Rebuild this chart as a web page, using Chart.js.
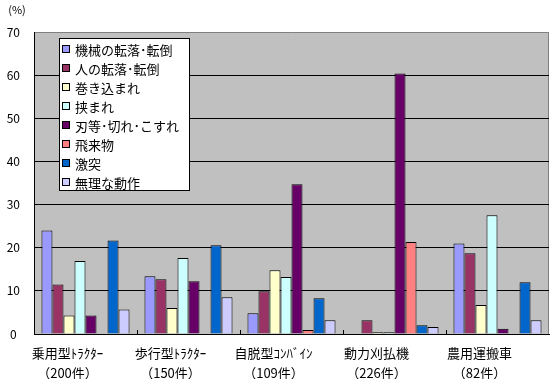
<!DOCTYPE html>
<html>
<head>
<meta charset="utf-8">
<script src="https://cdn.jsdelivr.net/npm/chart.js@4/dist/chart.umd.min.js"></script>
<style>
html,body{margin:0;padding:0;background:#fff;}
#wrap{width:557px;height:379px;position:relative;}
</style>
</head>
<body>
<div id="wrap"><canvas id="c" width="557" height="379"></canvas></div>
<script>
const categories = [
  ["乗用型ﾄﾗｸﾀｰ", "（200件）"],
  ["歩行型ﾄﾗｸﾀｰ", "（150件）"],
  ["自脱型ｺﾝﾊﾞｲﾝ", "（109件）"],
  ["動力刈払機", "（226件）"],
  ["農用運搬車", "（82件）"]
];
const seriesNames = ["機械の転落･転倒","人の転落･転倒","巻き込まれ","挟まれ","刃等･切れ･こすれ","飛来物","激突","無理な動作"];
const seriesColors = ["#9999FF","#993366","#FFFFCC","#CCFFFF","#660066","#FF8080","#0066CC","#CCCCFF"];
const kikaiTenraku = [24.0, 13.4, 4.8, 0, 21.0];
const hitoTenraku  = [11.5, 12.7, 9.9, 3.2, 18.7];
const makikomare   = [4.3, 6.0, 14.8, 0.4, 6.7];
const hasamare     = [16.9, 17.6, 13.2, 0.4, 27.5];
const hatoKire     = [4.3, 12.2, 34.7, 60.4, 1.2];
const hiraibutsu   = [0, 0, 0.9, 21.3, 0];
const gekitotsu    = [21.7, 20.6, 8.3, 2.0, 12.0];
const murinaDosa   = [5.7, 8.5, 3.2, 1.6, 3.2];
const seriesValues = [kikaiTenraku, hitoTenraku, makikomare, hasamare, hatoKire, hiraibutsu, gekitotsu, murinaDosa];
const yTicks = [0,10,20,30,40,50,60,70];

const FONT = "'Noto Sans CJK JP', 'Noto Sans', sans-serif";

const plotBg = {
  id: 'plotBg',
  beforeDraw(chart) {
    const {ctx, chartArea: a} = chart;
    ctx.save();
    ctx.fillStyle = '#C0C0C0';
    ctx.fillRect(a.left, a.top, a.right - a.left, a.bottom - a.top);
    ctx.strokeStyle = '#808080';
    ctx.lineWidth = 1;
    ctx.beginPath();
    ctx.moveTo(a.left, a.top + 0.5);
    ctx.lineTo(a.right - 0.5, a.top + 0.5);
    ctx.lineTo(a.right - 0.5, a.bottom);
    ctx.stroke();
    ctx.restore();
  },
  afterDraw(chart) {
    const {ctx, chartArea: a, scales} = chart;
    ctx.save();
    // category boundary tick marks
    const xs = scales.x;
    const half = (xs.getPixelForValue(1) - xs.getPixelForValue(0)) / 2;
    ctx.strokeStyle = '#000';
    ctx.lineWidth = 1;
    ctx.beginPath();
    for (let i = 1; i < categories.length; i++) {
      const px = Math.round(xs.getPixelForValue(i) - half) + 0.5;
      ctx.moveTo(px, a.bottom);
      ctx.lineTo(px, a.bottom - 4);
    }
    ctx.stroke();
    // unit label
    ctx.fillStyle = '#000';
    ctx.font = '11px ' + FONT;
    ctx.textAlign = 'center';
    ctx.textBaseline = 'middle';
    ctx.fillText('(%)', 17, 10);
    // legend
    const lx = 59.5, ly = 38.5, lw = 130, lh = 152;
    ctx.fillStyle = '#fff';
    ctx.fillRect(lx, ly, lw, lh);
    ctx.strokeStyle = '#000';
    ctx.strokeRect(lx, ly, lw, lh);
    ctx.font = '13px ' + FONT;
    ctx.textAlign = 'left';
    chart.data.datasets.forEach((ds, i) => {
      const cy = 49 + i * 19;
      ctx.fillStyle = ds.backgroundColor;
      ctx.fillRect(62.5, cy - 3.5, 7, 7);
      ctx.strokeRect(62.5, cy - 3.5, 7, 7);
      ctx.fillStyle = '#000';
      ctx.fillText(ds.label, 75, cy + 1);
    });
    ctx.restore();
  }
};

new Chart(document.getElementById('c'), {
  type: 'bar',
  data: {
    labels: categories,
    datasets: seriesNames.map((n, i) => ({
      label: n,
      data: seriesValues[i],
      backgroundColor: seriesColors[i],
      borderColor: '#000',
      borderWidth: 1,
      borderSkipped: 'bottom',
      categoryPercentage: 0.855,
      barPercentage: 1.0
    }))
  },
  options: {
    responsive: false,
    animation: false,
    events: [],
    layout: { padding: { top: 32, right: 8, left: 0, bottom: 0 } },
    plugins: { legend: { display: false }, tooltip: { enabled: false } },
    scales: {
      x: {
        grid: { display: false, drawTicks: false },
        border: { display: true, color: '#000', width: 1 },
        ticks: {
          color: '#000',
          font: { family: FONT, size: 13, lineHeight: 1.54 },
          padding: 9,
          maxRotation: 0,
          autoSkip: false,
          labelOffset: -18
        },
        afterFit(s) { s.height = 45; }
      },
      y: {
        min: 0, max: 70,
        afterBuildTicks(s) { s.ticks = yTicks.map(v => ({ value: v })); },
        grid: {
          color: ctx => (ctx.tick && ctx.tick.value === 70) ? 'rgba(0,0,0,0)' : '#000',
          drawTicks: false,
          lineWidth: 1
        },
        border: { display: true, color: '#000', width: 1 },
        ticks: {
          color: '#000',
          font: { family: FONT, size: 12 },
          padding: 14,
          crossAlign: 'center'
        },
        afterFit(s) { s.width = 34; }
      }
    }
  },
  plugins: [plotBg]
});
</script>
</body>
</html>
